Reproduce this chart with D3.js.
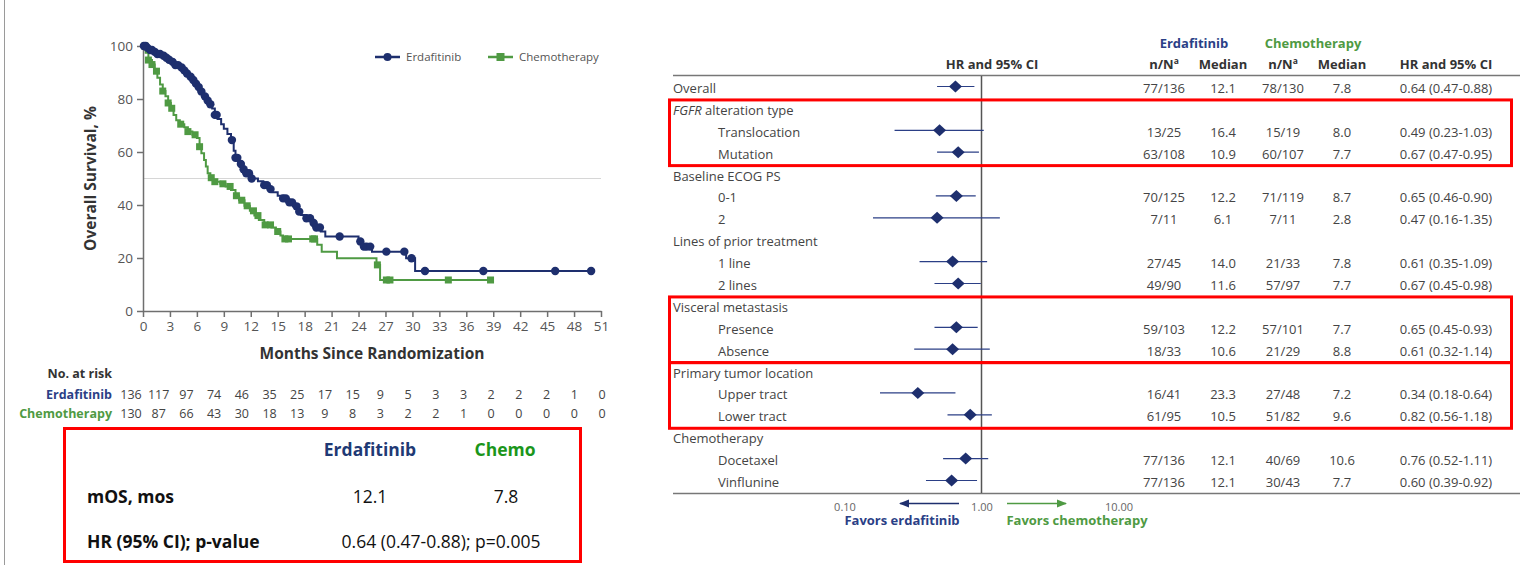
<!DOCTYPE html>
<html>
<head>
<meta charset="utf-8">
<script src="https://cdn.jsdelivr.net/npm/d3@7"></script>
<style>
  html, body { margin: 0; padding: 0; background: #fff; }
  svg { display: block; }
</style>
</head>
<body>
<svg id="chart" width="1534" height="565"></svg>
<script>
// ---------- Kaplan-Meier data (months, % surviving after each step) ----------
const erdaSteps = [
  [0,100],[0.4,99.3],[0.8,98.5],[1.2,97.8],[1.6,97.0],[2.0,96.3],[2.4,95.6],[2.8,94.8],
  [3.2,94.0],[3.6,92.8],[4.0,91.9],[4.4,90.8],[4.8,89.6],[5.2,88.4],[5.5,87.2],[5.8,85.8],
  [6.1,84.5],[6.4,82.8],[6.7,81.0],[7.0,79.4],[7.3,78.0],[7.7,76.4],[8.0,74.0],[8.3,72.5],
  [8.7,70.5],[9.0,68.8],[9.4,66.8],[9.8,64.5],[10.1,60.5],[10.3,57.8],[10.6,55.5],[11.0,53.5],
  [11.4,52.0],[12.1,50.0],[12.8,49.0],[13.4,47.5],[14.0,46.0],[14.4,44.8],[15.0,43.5],
  [15.6,42.5],[16.2,41.0],[16.7,39.5],[17.2,37.5],[17.6,36.2],[18.2,35.0],[18.8,33.2],
  [19.3,31.5],[19.8,30.0],[20.3,28.1],[24.0,26.2],[24.5,24.3],[25.5,22.4],[29.3,19.9],
  [30.3,15.1],[50,15.1]
];
const erdaCensor = [
  0.1,0.3,0.5,0.8,1.0,1.3,1.6,1.9,2.3,2.6,2.9,3.3,3.6,3.9,4.3,4.6,4.9,5.3,5.6,5.9,6.2,6.5,
  6.9,7.2,7.5,8.0,8.2,9.9,10.3,10.5,10.9,11.2,11.5,11.8,12.1,13.5,13.8,14.2,15.6,15.9,16.3,
  16.6,17.1,17.4,18.2,18.6,19.0,19.3,19.7,21.9,24.2,24.6,24.9,25.3,27.1,29.1,29.9,31.4,
  37.9,45.9,49.9
];
const chemoSteps = [
  [0,100],[0.3,97.5],[0.6,94.7],[1.0,93.0],[1.3,90.5],[1.6,88.0],[1.9,85.5],[2.2,83.0],
  [2.5,81.0],[2.8,78.5],[3.1,76.5],[3.4,74.0],[3.7,72.0],[4.1,70.5],[4.6,69.3],[5.0,67.7],
  [5.5,66.5],[6.0,65.3],[6.3,62.0],[6.5,59.5],[6.8,57.0],[7.0,54.5],[7.2,52.0],[7.5,50.3],
  [7.8,48.8],[8.6,48.0],[9.2,47.0],[9.8,45.7],[10.3,43.5],[10.7,41.8],[11.3,39.7],[11.9,37.8],
  [12.4,36.0],[12.9,34.3],[13.5,32.5],[14.3,31.5],[14.8,30.0],[15.3,28.5],[15.6,27.2],
  [19.4,25.0],[19.9,22.4],[21.6,19.9],[26.0,17.4],[26.4,11.7],[39,11.7]
];
const chemoCensor = [
  0.2,0.6,1.0,1.5,2.2,2.8,3.2,4.2,5.0,5.8,6.3,7.6,8.0,8.9,9.7,10.4,11.0,11.6,12.3,12.8,
  13.6,14.2,15.0,15.8,16.2,18.9,19.1,26.1,27.1,27.5,34.0,38.7
];

// ---------- Number at risk ----------
const riskMonths = d3.range(0, 52, 3);
const riskErda  = [136,117,97,74,46,35,25,17,15,9,5,3,3,2,2,2,1,0];
const riskChemo = [130,87,66,43,30,18,13,9,8,3,2,2,1,0,0,0,0,0];

// ---------- Summary ----------
const summaryHead = ["Erdafitinib", "Chemo"];
const summaryRows = [
  ["mOS, mos", "12.1", "7.8"],
  ["HR (95% CI); p-value", "0.64 (0.47-0.88); p=0.005"]
];

// ---------- Forest plot subgroups ----------
const forestLabels = ["Overall","FGFR alteration type","Translocation","Mutation","Baseline ECOG PS","0-1","2",
  "Lines of prior treatment","1 line","2 lines","Visceral metastasis","Presence","Absence",
  "Primary tumor location","Upper tract","Lower tract","Chemotherapy","Docetaxel","Vinflunine"];
const forestLevel = [0,0,1,1,0,1,1,0,1,1,0,1,1,0,1,1,0,1,1];
const forestHR = [0.64,null,0.49,0.67,null,0.65,0.47,null,0.61,0.67,null,0.65,0.61,null,0.34,0.82,null,0.76,0.60];
const forestLo = [0.47,null,0.23,0.47,null,0.46,0.16,null,0.35,0.45,null,0.45,0.32,null,0.18,0.56,null,0.52,0.39];
const forestHi = [0.88,null,1.03,0.95,null,0.90,1.35,null,1.09,0.98,null,0.93,1.14,null,0.64,1.18,null,1.11,0.92];
const erdaNN   = ["77/136","","13/25","63/108","","70/125","7/11","","27/45","49/90","","59/103","18/33","","16/41","61/95","","77/136","77/136"];
const erdaMed  = ["12.1","","16.4","10.9","","12.2","6.1","","14.0","11.6","","12.2","10.6","","23.3","10.5","","12.1","12.1"];
const chemoNN  = ["78/130","","15/19","60/107","","71/119","7/11","","21/33","57/97","","57/101","21/29","","27/48","51/82","","40/69","30/43"];
const chemoMed = ["7.8","","8.0","7.7","","8.7","2.8","","7.8","7.7","","7.7","8.8","","7.2","9.6","","10.6","7.7"];
const forestTicks = [0.1, 1, 10];

const NAVY = "#1e2f6e", GREEN = "#4f9a43", TXT = "#444", AX = "#6f6f6f";
const FONT = "'Open Sans', sans-serif";
const svg = d3.select("#chart").style("font-family", FONT);

// Panel frame line
svg.append("line").attr("x1",4.5).attr("x2",4.5).attr("y1",0).attr("y2",565).attr("stroke","#9a9a9a").attr("stroke-width",1);

// =================== Kaplan-Meier panel ===================
const x = d3.scaleLinear().domain([0,51]).range([143,601]);
const y = d3.scaleLinear().domain([0,100]).range([311,46]);

const km = svg.append("g");
// 50% reference line
km.append("line").attr("x1",x(0)).attr("x2",x(51)).attr("y1",y(50)).attr("y2",y(50))
  .attr("stroke","#d6d6d6").attr("stroke-width",1);

const xAxis = km.append("g").attr("transform",`translate(0,${y(0)})`)
  .call(d3.axisBottom(x).tickValues(d3.range(0,52,3)).tickSize(6).tickPadding(4).tickSizeOuter(0));
const yAxis = km.append("g").attr("transform",`translate(${x(0)},0)`)
  .call(d3.axisLeft(y).tickValues(d3.range(0,101,20)).tickSize(6).tickPadding(4).tickSizeOuter(0));
[xAxis, yAxis].forEach(a => {
  a.selectAll("path,line").attr("stroke",AX).attr("stroke-width",1.5);
  a.selectAll("text").attr("fill","#555").style("font-size","13.5px").style("font-family",FONT);
});

km.append("text").attr("transform",`translate(96,${y(50)}) rotate(-90)`)
  .attr("text-anchor","middle").attr("fill","#333").style("font-size","15.5px").style("font-weight","bold")
  .text("Overall Survival, %");
km.append("text").attr("x",(x(0)+x(51))/2).attr("y",359).attr("text-anchor","middle")
  .attr("fill","#333").style("font-size","15.5px").style("font-weight","bold").text("Months Since Randomization");

function survAt(steps, t){
  let s = steps[0][1];
  for (const [m,v] of steps){ if (m <= t) s = v; else break; }
  return s;
}
const stepLine = d3.line().x(d=>x(d[0])).y(d=>y(d[1])).curve(d3.curveStepAfter);

km.append("path").datum(chemoSteps).attr("d",stepLine).attr("fill","none").attr("stroke",GREEN).attr("stroke-width",2);
km.selectAll(".cc").data(chemoCensor).join("rect").attr("class","cc")
  .attr("x",d=>x(d)-3.5).attr("y",d=>y(survAt(chemoSteps,d))-3.5).attr("width",7).attr("height",7).attr("fill",GREEN);

km.append("path").datum(erdaSteps).attr("d",stepLine).attr("fill","none").attr("stroke",NAVY).attr("stroke-width",2);
km.selectAll(".ec").data(erdaCensor).join("circle").attr("class","ec")
  .attr("cx",d=>x(d)).attr("cy",d=>y(survAt(erdaSteps,d))).attr("r",4.2).attr("fill",NAVY);

// Legend
const leg = km.append("g").attr("transform","translate(375,57)");
leg.append("line").attr("x1",0).attr("x2",25).attr("stroke",NAVY).attr("stroke-width",2.5);
leg.append("circle").attr("cx",12.5).attr("r",4).attr("fill",NAVY);
leg.append("text").attr("x",31).attr("y",4).attr("fill","#555").style("font-size","11.5px").text("Erdafitinib");
leg.append("line").attr("x1",113).attr("x2",138).attr("stroke",GREEN).attr("stroke-width",2.5);
leg.append("rect").attr("x",121.5).attr("y",-4).attr("width",8).attr("height",8).attr("fill",GREEN);
leg.append("text").attr("x",144).attr("y",4).attr("fill","#555").style("font-size","11.5px").text("Chemotherapy");

// Number at risk table
const riskX = d3.scaleLinear().domain([0,51]).range([131,602]);
const risk = svg.append("g").style("font-size","12.5px");
risk.append("text").attr("x",112).attr("y",378).attr("text-anchor","end").attr("fill","#333")
  .style("font-weight","bold").text("No. at risk");
risk.append("text").attr("x",112).attr("y",399).attr("text-anchor","end").attr("fill","#2b3f86")
  .style("font-weight","bold").text("Erdafitinib");
risk.append("text").attr("x",112).attr("y",418).attr("text-anchor","end").attr("fill",GREEN)
  .style("font-weight","bold").text("Chemotherapy");
risk.selectAll(".re").data(riskErda).join("text").attr("class","re")
  .attr("x",(d,i)=>riskX(riskMonths[i])).attr("y",399).attr("text-anchor","middle").attr("fill",TXT).text(d=>d);
risk.selectAll(".rc").data(riskChemo).join("text").attr("class","rc")
  .attr("x",(d,i)=>riskX(riskMonths[i])).attr("y",418).attr("text-anchor","middle").attr("fill",TXT).text(d=>d);

// Summary box
const sb = svg.append("g").style("font-size","17.5px");
sb.append("rect").attr("x",64.5).attr("y",428.5).attr("width",516).attr("height",133)
  .attr("fill","none").attr("stroke","#ff0000").attr("stroke-width",3);
sb.append("text").attr("x",370).attr("y",456).attr("text-anchor","middle").attr("fill","#1f3a75")
  .style("font-weight","bold").text(summaryHead[0]);
sb.append("text").attr("x",505).attr("y",456).attr("text-anchor","middle").attr("fill","#1b961b")
  .style("font-weight","bold").text(summaryHead[1]);
sb.append("text").attr("x",87).attr("y",503).attr("fill","#111").style("font-weight","bold").text(summaryRows[0][0]);
sb.append("text").attr("x",370).attr("y",503).attr("text-anchor","middle").attr("fill","#111").text(summaryRows[0][1]);
sb.append("text").attr("x",506).attr("y",503).attr("text-anchor","middle").attr("fill","#111").text(summaryRows[0][2]);
sb.append("text").attr("x",87).attr("y",548).attr("fill","#111").style("font-weight","bold").text(summaryRows[1][0]);
sb.append("text").attr("x",441).attr("y",548).attr("text-anchor","middle").attr("fill","#111").text(summaryRows[1][1]);

// =================== Forest plot panel ===================
const fx = d3.scaleLog().domain([0.1,10]).range([845,1119]);
const fy = d3.scalePoint().domain(d3.range(forestLabels.length)).range([86.5,480.5]);
const TXT_DY = 6.5;
const fp = svg.append("g").style("font-size","13px");

// header
fp.append("text").attr("x",992).attr("y",69).attr("text-anchor","middle").attr("fill","#333")
  .style("font-weight","bold").text("HR and 95% CI");
fp.append("text").attr("x",1194).attr("y",48).attr("text-anchor","middle").attr("fill","#2b3f86")
  .style("font-weight","bold").text("Erdafitinib");
fp.append("text").attr("x",1313).attr("y",48).attr("text-anchor","middle").attr("fill",GREEN)
  .style("font-weight","bold").text("Chemotherapy");
const colX = [1164, 1223, 1283, 1342, 1446];
const colHead = ["n/N", "Median", "n/N", "Median", "HR and 95% CI"];
colHead.forEach((h,i) => {
  const t = fp.append("text").attr("x",colX[i]).attr("y",69).attr("text-anchor","middle")
    .attr("fill","#333").style("font-weight","bold").text(h);
  if (h === "n/N") t.append("tspan").attr("dy",-5).style("font-size","8.5px").text("a");
});
fp.append("line").attr("x1",673).attr("x2",1520).attr("y1",75.5).attr("y2",75.5).attr("stroke","#777").attr("stroke-width",1.5);
fp.append("line").attr("x1",673).attr("x2",1520).attr("y1",493.5).attr("y2",493.5).attr("stroke","#777").attr("stroke-width",1.5);
// line of no effect
fp.append("line").attr("x1",fx(1)-0.5).attr("x2",fx(1)-0.5).attr("y1",76).attr("y2",493).attr("stroke","#555").attr("stroke-width",1.5);

// row labels
const lab = fp.selectAll(".fl").data(forestLabels).join("text").attr("class","fl")
  .attr("x",(d,i)=>forestLevel[i] ? 718 : 673).attr("y",(d,i)=>fy(i)+TXT_DY).attr("fill",TXT);
lab.each(function(d){
  const t = d3.select(this);
  if (d.startsWith("FGFR")) {
    t.append("tspan").style("font-style","italic").text("FGFR");
    t.append("tspan").text(d.slice(4));
  } else t.text(d);
});

// CI lines and diamonds
const idx = d3.range(forestLabels.length).filter(i => forestHR[i] != null);
fp.selectAll(".ci").data(idx).join("line").attr("class","ci")
  .attr("x1",i=>fx(forestLo[i])).attr("x2",i=>fx(forestHi[i])).attr("y1",i=>fy(i)).attr("y2",i=>fy(i))
  .attr("stroke","#2b3f86").attr("stroke-width",1.2);
fp.selectAll(".dm").data(idx).join("path").attr("class","dm")
  .attr("d",i=>{const cx=fx(forestHR[i]), cy=fy(i); return `M${cx-6.5},${cy}L${cx},${cy-6}L${cx+6.5},${cy}L${cx},${cy+6}Z`;})
  .attr("fill",NAVY);

// numeric columns
const cols = [erdaNN, erdaMed, chemoNN, chemoMed,
  forestLabels.map((d,i)=> forestHR[i]==null ? "" : `${forestHR[i].toFixed(2)} (${forestLo[i].toFixed(2)}-${forestHi[i].toFixed(2)})`)];
cols.forEach((arr,c) => {
  fp.selectAll(".c"+c).data(arr).join("text").attr("class","c"+c)
    .attr("x",colX[c]).attr("y",(d,i)=>fy(i)+TXT_DY).attr("text-anchor","middle").attr("fill",TXT).text(d=>d);
});

// bottom scale
fp.selectAll(".tk").data(forestTicks).join("text").attr("class","tk")
  .attr("x",d=>fx(d)).attr("y",511).attr("text-anchor","middle").attr("fill","#666").style("font-size","11px")
  .text(d=>d3.format(".2f")(d));
const defs = svg.append("defs");
[["ab",NAVY],["ag",GREEN]].forEach(([id,c]) => {
  defs.append("marker").attr("id",id).attr("viewBox","0 0 10 10").attr("refX",9).attr("refY",5)
    .attr("markerWidth",7).attr("markerHeight",7).attr("orient","auto")
    .append("path").attr("d","M0,1L10,5L0,9Z").attr("fill",c);
});
fp.append("line").attr("x1",959).attr("x2",900).attr("y1",503.5).attr("y2",503.5).attr("stroke",NAVY).attr("stroke-width",1.5).attr("marker-end","url(#ab)");
fp.append("line").attr("x1",1007).attr("x2",1066).attr("y1",503.5).attr("y2",503.5).attr("stroke",GREEN).attr("stroke-width",1.5).attr("marker-end","url(#ag)");
fp.append("text").attr("x",902).attr("y",525).attr("text-anchor","middle").attr("fill","#2b3f86")
  .style("font-weight","bold").text("Favors erdafitinib");
fp.append("text").attr("x",1077).attr("y",525).attr("text-anchor","middle").attr("fill",GREEN)
  .style("font-weight","bold").text("Favors chemotherapy");

// highlight boxes around key subgroups
const boxes = [[1,3],[10,12],[13,15]];
const half = (fy(1)-fy(0))/2;
boxes.forEach(([a,b]) => {
  const top = fy(a)+2.5-half, bot = fy(b)+2.5+half;
  fp.append("rect").attr("x",669.5).attr("y",top).attr("width",842).attr("height",bot-top)
    .attr("fill","none").attr("stroke","#ff0000").attr("stroke-width",3);
});
</script>
</body>
</html>
